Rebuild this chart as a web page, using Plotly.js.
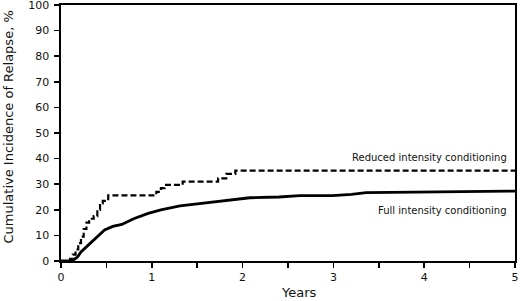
<!DOCTYPE html>
<html>
<head>
<meta charset="utf-8">
<script src="https://cdn.plot.ly/plotly-3.0.1.min.js"></script>
<style>html,body{margin:0;padding:0;background:#fff;}#chart{width:520px;height:301px;}</style>
</head>
<body>
<div id="chart"></div>
<script>
// Full intensity conditioning (solid)
const fullYears = [0, 0.12, 0.18, 0.22, 0.30, 0.38, 0.48, 0.57, 0.67, 0.80, 0.96, 1.10, 1.23, 1.31, 1.50, 1.75, 1.90, 2.08, 2.40, 2.63, 2.99, 3.20, 3.36, 3.60, 4.00, 4.53, 5.0];
const fullCIR   = [0, 0, 1.5, 3.5, 6.2, 9.0, 12.1, 13.5, 14.3, 16.5, 18.6, 20.0, 21.0, 21.5, 22.3, 23.4, 24.0, 24.7, 25.0, 25.5, 25.5, 26.0, 26.7, 26.8, 27.0, 27.1, 27.3];
// Reduced intensity conditioning (dashed, step)
const ricYears = [0, 0.10, 0.13, 0.16, 0.19, 0.22, 0.25, 0.28, 0.31, 0.36, 0.40, 0.43, 0.46, 0.52, 1.05, 1.10, 1.14, 1.34, 1.73, 1.82, 1.92, 5.0];
const ricCIR   = [0, 0.8, 2.5, 4.5, 7.0, 9.5, 12.5, 15.0, 16.5, 17.5, 20.0, 22.5, 23.5, 25.6, 27.0, 28.5, 29.7, 31.0, 32.3, 34.0, 35.3, 35.3];
const seriesNames = ["Reduced intensity conditioning", "Full intensity conditioning"];
const xTickVals = [0, 0.5, 1, 1.5, 2, 2.5, 3, 3.5, 4, 4.5, 5];
const xTickText = ["0", "", "1", "", "2", "", "3", "", "4", "", "5"];
const yTicks = [0, 10, 20, 30, 40, 50, 60, 70, 80, 90, 100];
const xTitle = "Years";
const yTitle = "Cumulative Incidence of Relapse, %";

const font = "DejaVu Sans, Verdana, sans-serif";
const traces = [
  {x: fullYears, y: fullCIR, mode: "lines", line: {color: "#000", width: 2.8, shape: "linear"}, name: seriesNames[1], hoverinfo: "skip"},
  {x: ricYears, y: ricCIR, mode: "lines", line: {color: "#000", width: 2.2, shape: "hv", dash: "6px,3px"}, name: seriesNames[0], hoverinfo: "skip"}
];
const layout = {
  width: 520, height: 301,
  margin: {l: 61, r: 5, t: 5, b: 40},
  paper_bgcolor: "#fff", plot_bgcolor: "#fff",
  showlegend: false,
  font: {family: font, color: "#111", size: 11},
  xaxis: {
    range: [0, 5], tickvals: xTickVals, ticktext: xTickText,
    ticks: "outside", ticklen: 5, tickwidth: 1.6, tickcolor: "#000",
    showline: true, linecolor: "#000", linewidth: 1.6, mirror: true,
    showgrid: false, zeroline: false, fixedrange: true,
    tickfont: {size: 11, family: font, color: "#111"}
  },
  yaxis: {
    range: [0, 100], tickvals: yTicks, ticklabeloverflow: "allow", ticklabelstandoff: 3,
    ticks: "outside", ticklen: 5, tickwidth: 1.6, tickcolor: "#000",
    showline: true, linecolor: "#000", linewidth: 1.6, mirror: true,
    showgrid: false, zeroline: false, fixedrange: true,
    tickfont: {size: 11, family: font, color: "#111"}
  },
  annotations: [
    {x: 4.93, y: 40.5, xref: "x", yref: "y", text: seriesNames[0], showarrow: false, xanchor: "right", yanchor: "middle", font: {size: 10, family: font, color: "#111"}},
    {x: 4.93, y: 19.7, xref: "x", yref: "y", text: seriesNames[1], showarrow: false, xanchor: "right", yanchor: "middle", font: {size: 10, family: font, color: "#111"}},
    {x: (7.5 - 61) / 454, y: (261 - 127) / 256, xref: "paper", yref: "paper", text: yTitle, textangle: -90, showarrow: false, xanchor: "center", yanchor: "middle", font: {size: 13, family: font, color: "#111"}},
    {x: (299 - 61) / 454, y: (261 - 292.5) / 256, xref: "paper", yref: "paper", text: xTitle, showarrow: false, borderpad: 0, xanchor: "center", yanchor: "middle", font: {size: 13, family: font, color: "#111"}}
  ]
};
Plotly.newPlot("chart", traces, layout, {staticPlot: true, displayModeBar: false});
</script>
</body>
</html>
